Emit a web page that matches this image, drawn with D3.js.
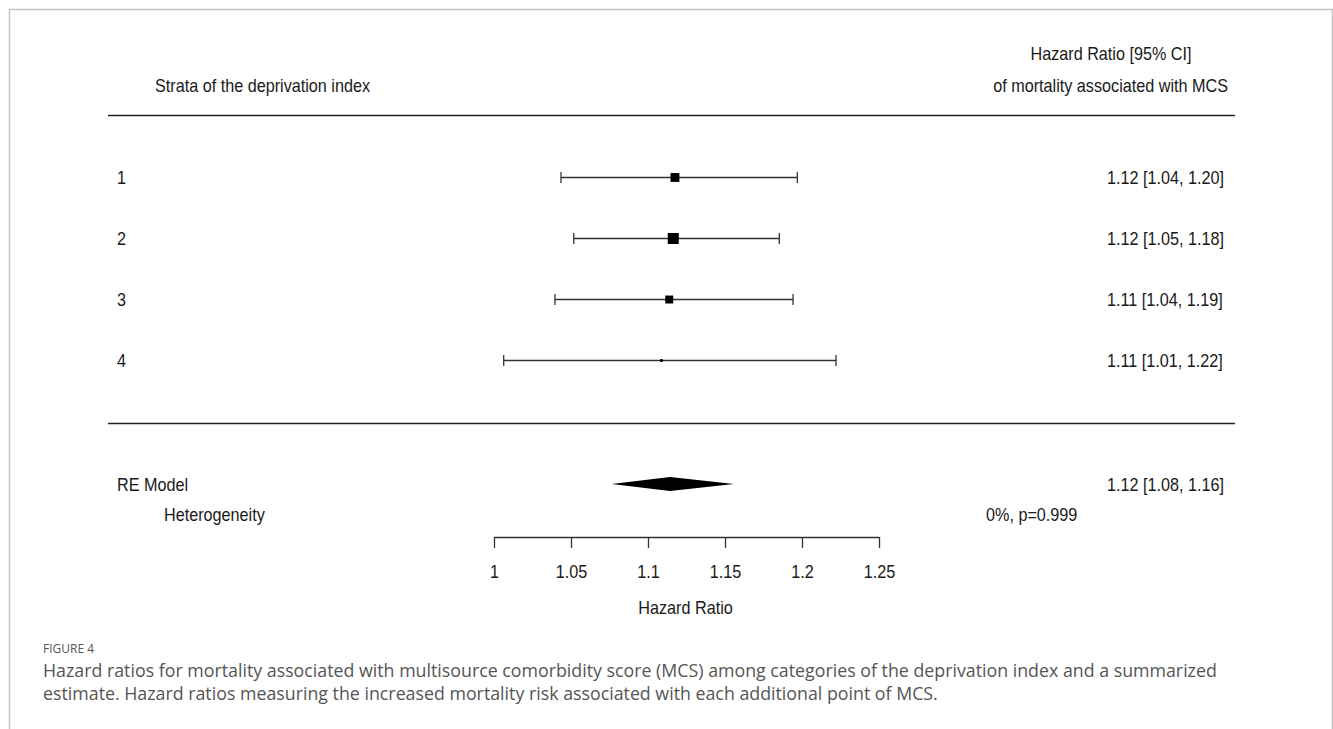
<!DOCTYPE html>
<html>
<head>
<meta charset="utf-8">
<script src="https://cdn.jsdelivr.net/npm/d3@7"></script>
<style>
  body { margin: 0; background: #fff; }
  svg { display: block; }
</style>
</head>
<body>
<div id="wrapper"></div>
<script>
// strata of the deprivation index
const strata = ["1", "2", "3", "4"];
const estimates = [1.1175, 1.1164, 1.1138, 1.1087];
const lowerCI = [1.0435, 1.0518, 1.0396, 1.0063];
const upperCI = [1.1970, 1.1853, 1.1942, 1.2221];
const weights = [29, 36, 26, 9];
const hrLabels = ["1.12 [1.04, 1.20]", "1.12 [1.05, 1.18]", "1.11 [1.04, 1.19]", "1.11 [1.01, 1.22]"];

// random effects summary
const summaryEst = 1.1143;
const summaryLower = 1.0764;
const summaryUpper = 1.1558;
const summaryLabel = "1.12 [1.08, 1.16]";
const heterogeneityLabel = "0%, p=0.999";

const tickValues = [1, 1.05, 1.1, 1.15, 1.2, 1.25];
const tickLabels = ["1", "1.05", "1.1", "1.15", "1.2", "1.25"];

function buildPlot() {
    const width = 1333;
    const height = 729;
    const plotFont = "'Liberation Sans', Arial, sans-serif";
    const captionFont = "'Open Sans', 'Noto Sans', sans-serif";
    const squeeze = 0.9; // R output looks horizontally condensed
    const textColor = "#1a1a1a";

    const svg = d3.select("#wrapper").append("svg")
        .attr("width", width)
        .attr("height", height);

    // condensed text helper
    function addText(parent, x, y, str, anchor) {
        return parent.append("text")
            .attr("transform", `translate(${x},${y}) scale(${squeeze},1)`)
            .attr("text-anchor", anchor || "start")
            .attr("font-family", plotFont)
            .attr("font-size", 18)
            .attr("fill", textColor)
            .text(str);
    }

    // outer frame
    svg.append("path")
        .attr("d", `M9.5,${height} V9.5 H1332.5 V${height}`)
        .attr("fill", "none")
        .attr("stroke", "#c4c4c4")
        .attr("stroke-width", 1.5);

    const xScale = d3.scaleLinear()
        .domain([1, 1.25])
        .range([494, 879]);

    const yScale = d3.scaleLinear()
        .domain([0, strata.length - 1])
        .range([177, 360]);

    const sizeScale = d3.scaleLinear()
        .domain([0, d3.max(weights)])
        .range([0, 11]);

    // headers
    addText(svg, 155, 92, "Strata of the deprivation index");
    addText(svg, 1111, 60, "Hazard Ratio [95% CI]", "middle");
    addText(svg, 1228, 92, "of mortality associated with MCS", "end");

    // separator lines
    [115.5, 423.5].forEach(y => {
        svg.append("line")
            .attr("x1", 108).attr("x2", 1235)
            .attr("y1", y).attr("y2", y)
            .attr("stroke", "#222")
            .attr("stroke-width", 1.5);
    });

    const rowData = strata.map((s, i) => ({
        label: s, est: estimates[i], lo: lowerCI[i], hi: upperCI[i],
        w: weights[i], text: hrLabels[i], i: i
    }));

    const rows = svg.append("g")
        .selectAll("g")
        .data(rowData)
        .enter()
        .append("g")
        .attr("transform", d => `translate(0, ${yScale(d.i)})`);

    rows.each(function(d) {
        const g = d3.select(this);
        addText(g, 117, 7, d.label);
        addText(g, 1107, 7, d.text);
    });

    rows.append("line")
        .attr("x1", d => xScale(d.lo)).attr("x2", d => xScale(d.hi))
        .attr("y1", 0.5).attr("y2", 0.5)
        .attr("stroke", "#333").attr("stroke-width", 1.3);

    rows.append("line")
        .attr("x1", d => xScale(d.lo)).attr("x2", d => xScale(d.lo))
        .attr("y1", -5).attr("y2", 6)
        .attr("stroke", "#333").attr("stroke-width", 1.3);

    rows.append("line")
        .attr("x1", d => xScale(d.hi)).attr("x2", d => xScale(d.hi))
        .attr("y1", -5).attr("y2", 6)
        .attr("stroke", "#333").attr("stroke-width", 1.3);

    rows.append("rect")
        .attr("x", d => xScale(d.est) - sizeScale(d.w) / 2)
        .attr("y", d => 0.5 - sizeScale(d.w) / 2)
        .attr("width", d => sizeScale(d.w))
        .attr("height", d => sizeScale(d.w))
        .attr("fill", "#000");

    // summary
    const ySum = 484;
    addText(svg, 117, ySum + 7, "RE Model");
    addText(svg, 164, ySum + 37, "Heterogeneity");
    addText(svg, 1107, ySum + 7, summaryLabel);
    addText(svg, 986, ySum + 37, heterogeneityLabel);

    svg.append("polygon")
        .attr("points", [
            [xScale(summaryLower), ySum],
            [xScale(summaryEst), ySum - 7],
            [xScale(summaryUpper), ySum],
            [xScale(summaryEst), ySum + 7]
        ].map(p => p.join(",")).join(" "))
        .attr("fill", "#000");

    // axis
    const xAxis = d3.axisBottom(xScale)
        .tickValues(tickValues)
        .tickFormat((d, i) => tickLabels[i])
        .tickSizeInner(11)
        .tickSizeOuter(0)
        .tickPadding(17);

    const axisG = svg.append("g")
        .attr("transform", "translate(0, 537)")
        .call(xAxis);

    axisG.select(".domain").attr("stroke", "#333").attr("stroke-width", 1.3);
    axisG.selectAll(".tick line").attr("stroke", "#333").attr("stroke-width", 1.3);
    axisG.selectAll(".tick text")
        .attr("font-family", plotFont).attr("font-size", 18)
        .attr("fill", textColor)
        .attr("transform", `scale(${squeeze},1)`)
        .attr("x", 0);
    // keep tick labels centred on ticks after squeezing
    axisG.selectAll(".tick").each(function() {
        d3.select(this).select("text")
            .attr("transform", `translate(0,0) scale(${squeeze},1)`);
    });

    addText(svg, xScale(1.125) - 1, 614, "Hazard Ratio", "middle");

    // caption
    svg.append("text")
        .attr("x", 43).attr("y", 653)
        .attr("font-family", captionFont).attr("font-size", 12)
        .attr("fill", "#555")
        .text("FIGURE 4");

    const captionLines = [
        "Hazard ratios for mortality associated with multisource comorbidity score (MCS) among categories of the deprivation index and a summarized",
        "estimate. Hazard ratios measuring the increased mortality risk associated with each additional point of MCS."
    ];
    svg.append("g")
        .selectAll("text")
        .data(captionLines)
        .enter()
        .append("text")
        .attr("x", 43)
        .attr("y", (d, i) => 677 + i * 23)
        .attr("font-family", captionFont).attr("font-size", 17.8)
        .attr("fill", "#555")
        .text(d => d);
}

buildPlot();
</script>
</body>
</html>
